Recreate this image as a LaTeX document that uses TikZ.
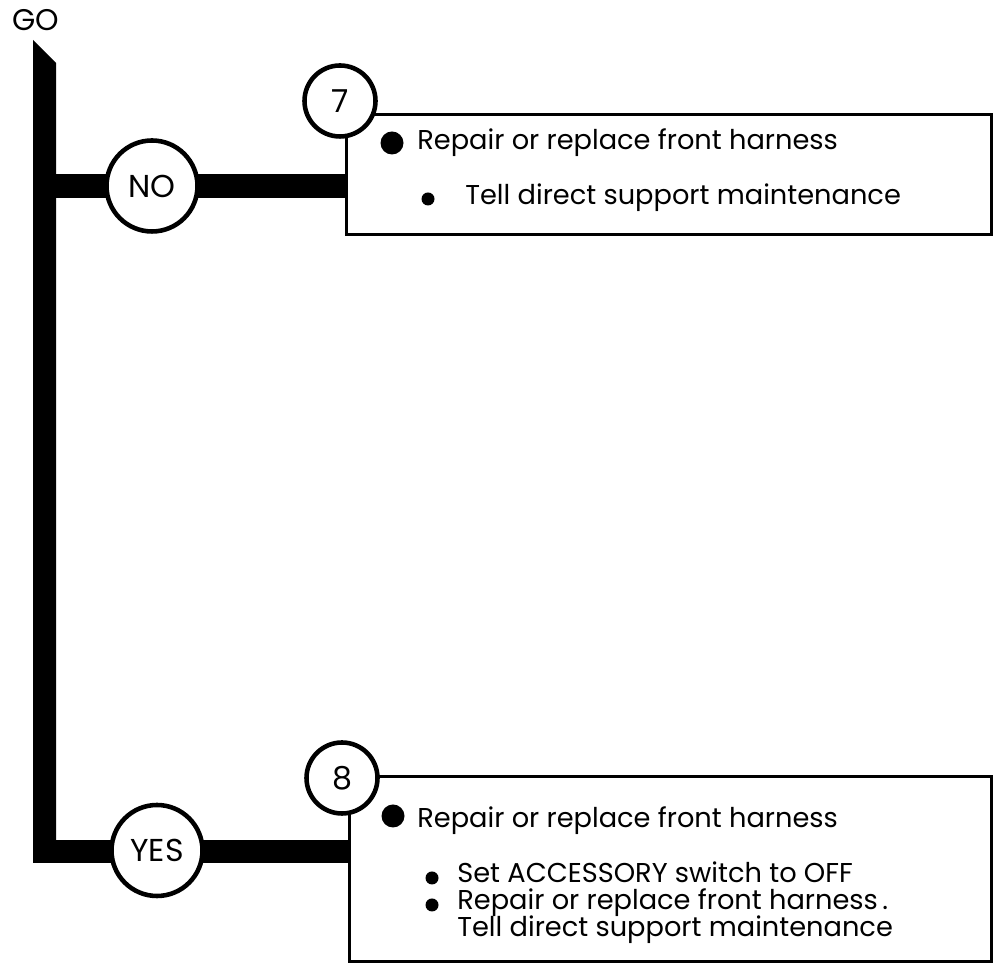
\documentclass[tikz,border=0pt]{standalone}
\usepackage{fontspec}
\setmainfont{Poppins}
\usepackage{tkz-euclide}
\usetikzlibrary{calc}

\begin{document}
\begin{tikzpicture}[
  ring/.style={circle,draw,fill=white,line width=2.6pt,inner sep=0pt},
  stepbox/.style={draw,line width=1.5pt,inner sep=0pt,anchor=north west},
  branch/.style={line width=0.47cm},
  txt/.style={anchor=base west,inner sep=0pt,font=\fontsize{15.5}{18}\selectfont},
  lab/.style={font=\fontsize{18}{21}\selectfont}]
\useasboundingbox (0,0) rectangle (20,19.46);

\tkzDefPoints{0.66/18.66/T1,1.12/18.2/T2,1.12/2.2/T3,0.66/2.2/T4}
\coordinate (jno) at (1.0,15.74);
\coordinate (jyes) at (0.66,2.43);

\node[font=\fontsize{17}{20}\selectfont] (go) at (0.72,19.06) {GO};

\node[stepbox,minimum width=12.9cm,minimum height=2.4cm] (box7) at (6.9,17.2) {};
\node[stepbox,minimum width=12.84cm,minimum height=3.7cm] (box8) at (6.96,3.96) {};

% trunk and branches
\tkzFillPolygon[fill=black](T1,T2,T3,T4)
\draw[branch] (jno) -- (jno -| box7.west);
\draw[branch] (jyes) -- (jyes -| box8.west);

\node[ring,lab,minimum size=1.82cm] (no) at (3.04,15.74) {NO};
\node[ring,lab,minimum size=1.82cm] (yes) at (3.14,2.45) {YES};
\node[ring,lab,minimum size=1.42cm] (n7) at (6.8,17.44) {7};
\node[ring,lab,minimum size=1.42cm] (n8) at (6.84,3.9) {8};

% box 7
\fill (7.84,16.6) circle (0.23);
\fill (8.56,15.48) circle (0.13);
\node[txt] (t71) at (8.34,16.46) {Repair or replace front harness};
\node[txt] (t72) at (9.3,15.36) {Tell direct support maintenance};

% box 8
\fill (7.86,3.14) circle (0.23);
\fill (8.64,1.9) circle (0.13);
\fill (8.64,1.36) circle (0.13);
\node[txt] (t81) at (8.34,2.9) {Repair or replace front harness};
\node[txt] (t82) at (9.14,1.8) {Set ACCESSORY switch to OFF};
\node[txt] (t83) at (9.14,1.26) {Repair or replace front harness\,.};
\node[txt] (t84) at (9.14,0.72) {Tell direct support maintenance};

\end{tikzpicture}
\end{document}
